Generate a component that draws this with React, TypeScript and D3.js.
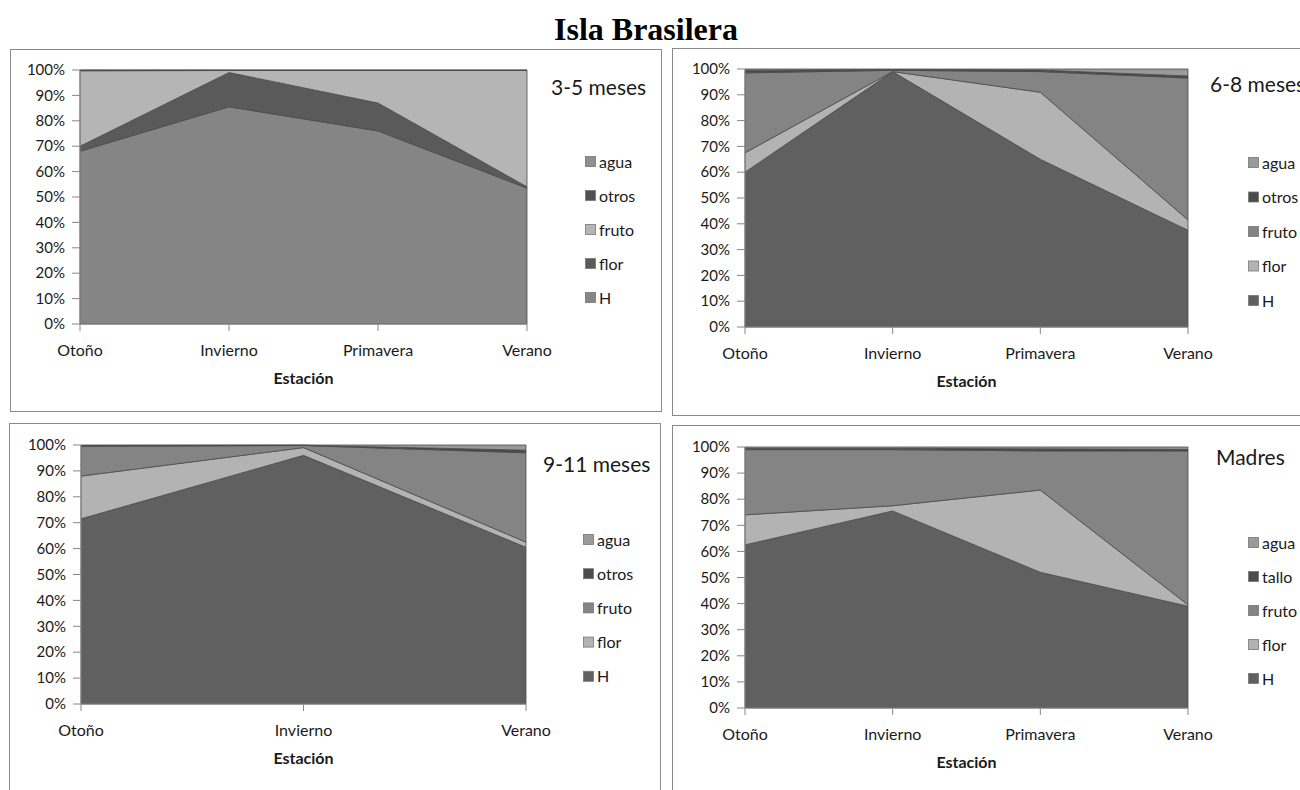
import React from "react";
import * as d3 from "d3";

const seasons4 = ["Otoño", "Invierno", "Primavera", "Verano"];
const seasons3 = ["Otoño", "Invierno", "Verano"];
const keysOtros = ["H", "flor", "fruto", "otros", "agua"];
const keysTallo = ["H", "flor", "fruto", "tallo", "agua"];
const yTicks = [0, 0.1, 0.2, 0.3, 0.4, 0.5, 0.6, 0.7, 0.8, 0.9, 1];

// 3-5 meses
const m35_H = [68, 85.5, 76, 53.5];
const m35_flor = [2, 13.5, 11, 0.5];
const m35_fruto = [29.7, 0.8, 12.8, 45.8];
const m35_otros = [0.2, 0.1, 0.1, 0.1];
const m35_agua = [0.1, 0.1, 0.1, 0.1];

// 6-8 meses
const m68_H = [60, 99, 65, 37.5];
const m68_flor = [7.5, 0, 26, 4];
const m68_fruto = [31, 0.5, 8, 55];
const m68_otros = [1, 0.3, 0.6, 0.8];
const m68_agua = [0.5, 0.2, 0.4, 2.7];

// 9-11 meses
const m911_H = [71.5, 96, 60.5];
const m911_flor = [16.5, 3, 2];
const m911_fruto = [11.5, 0.8, 34.5];
const m911_otros = [0.3, 0.1, 1];
const m911_agua = [0.2, 0.1, 2];

// Madres
const mad_H = [62.5, 75.5, 52, 39];
const mad_flor = [11.5, 2, 31.5, 0.5];
const mad_fruto = [25, 21.5, 15, 59];
const mad_tallo = [0.5, 0.5, 0.8, 0.6];
const mad_agua = [0.5, 0.5, 0.7, 0.9];

const colorsA = { H: "#858585", flor: "#5a5a5a", fruto: "#b5b5b5", otros: "#505050", agua: "#8f8f8f" };
const colorsB = { H: "#606060", flor: "#b3b3b3", fruto: "#848484", otros: "#4b4b4b", tallo: "#4b4b4b", agua: "#9a9a9a" };

type Panel = {
  title: string;
  cats: string[];
  keys: string[];
  series: number[][];
  colors: Record<string, string>;
  box: [number, number, number, number];
  plot: { x0: number; x1: number; yTop: number; yBot: number };
  titlePos: [number, number];
  legendX: number;
  legendY: number;
  legendStep: number;
};

const panels: Panel[] = [
  {
    title: "3-5 meses", cats: seasons4, keys: keysOtros,
    series: [m35_H, m35_flor, m35_fruto, m35_otros, m35_agua], colors: colorsA,
    box: [10, 49, 661, 411], plot: { x0: 80, x1: 527, yTop: 70, yBot: 324 },
    titlePos: [551, 95], legendX: 585, legendY: 162, legendStep: 34,
  },
  {
    title: "6-8 meses", cats: seasons4, keys: keysOtros,
    series: [m68_H, m68_flor, m68_fruto, m68_otros, m68_agua], colors: colorsB,
    box: [672, 48, 1320, 415], plot: { x0: 745, x1: 1188, yTop: 69, yBot: 327 },
    titlePos: [1210, 92], legendX: 1248, legendY: 163, legendStep: 34.5,
  },
  {
    title: "9-11 meses", cats: seasons3, keys: keysOtros,
    series: [m911_H, m911_flor, m911_fruto, m911_otros, m911_agua], colors: colorsB,
    box: [9, 423, 660, 800], plot: { x0: 81, x1: 526, yTop: 445, yBot: 704 },
    titlePos: [543, 472], legendX: 583, legendY: 540, legendStep: 34.2,
  },
  {
    title: "Madres", cats: seasons4, keys: keysTallo,
    series: [mad_H, mad_flor, mad_fruto, mad_tallo, mad_agua], colors: colorsB,
    box: [672, 425, 1320, 800], plot: { x0: 745, x1: 1188, yTop: 447, yBot: 708 },
    titlePos: [1216, 465], legendX: 1248, legendY: 543, legendStep: 34,
  },
];

const labelFont = "Lato, 'Open Sans', sans-serif";

function ChartPanel({ p }: { p: Panel }) {
  const rows = p.cats.map((c, i) => {
    const r: any = { cat: c };
    p.keys.forEach((k, j) => (r[k] = p.series[j][i]));
    return r;
  });
  const stacked = d3.stack<any>().keys(p.keys).offset(d3.stackOffsetExpand)(rows);
  const x = d3.scalePoint<string>().domain(p.cats).range([p.plot.x0, p.plot.x1]);
  const y = d3.scaleLinear().domain([0, 1]).range([p.plot.yBot, p.plot.yTop]);
  const area = d3
    .area<any>()
    .x((d) => x(d.data.cat) as number)
    .y0((d) => y(d[0]))
    .y1((d) => y(d[1]));
  const fmt = d3.format(".0%");
  const [bx0, by0, bx1, by1] = p.box;
  const legendKeys = [...p.keys].reverse();
  return (
    <g>
      <rect x={bx0 + 0.5} y={by0 + 0.5} width={bx1 - bx0} height={by1 - by0} fill="#fff" stroke="#8a8a8a" strokeWidth={1} />
      {stacked.map((s) => (
        <path key={s.key} d={area(s) as string} fill={p.colors[s.key]} stroke="#4a4a4a" strokeWidth={0.8} strokeLinejoin="round" />
      ))}
      {/* y axis */}
      <line x1={p.plot.x0} x2={p.plot.x0} y1={p.plot.yTop} y2={p.plot.yBot} stroke="#868686" />
      {yTicks.map((t) => (
        <g key={t}>
          <line x1={p.plot.x0 - 8} x2={p.plot.x0} y1={y(t)} y2={y(t)} stroke="#868686" />
          <text x={p.plot.x0 - 15} y={y(t)} dy="0.35em" textAnchor="end" fontFamily={labelFont} fontSize={15} fill="#1a1a1a">
            {fmt(t)}
          </text>
        </g>
      ))}
      {/* x axis */}
      <line x1={p.plot.x0} x2={p.plot.x1} y1={p.plot.yBot} y2={p.plot.yBot} stroke="#868686" />
      {p.cats.map((c) => (
        <g key={c}>
          <line x1={x(c)} x2={x(c)} y1={p.plot.yBot} y2={p.plot.yBot + 7} stroke="#868686" />
          <text x={x(c)} y={p.plot.yBot + 26} dy="0.35em" textAnchor="middle" fontFamily={labelFont} fontSize={16} fill="#1a1a1a">
            {c}
          </text>
        </g>
      ))}
      <text
        x={(p.plot.x0 + p.plot.x1) / 2}
        y={p.plot.yBot + 54}
        dy="0.35em"
        textAnchor="middle"
        fontFamily={labelFont}
        fontWeight="bold"
        fontSize={16}
        fill="#1a1a1a"
      >
        Estación
      </text>
      <text x={p.titlePos[0]} y={p.titlePos[1]} fontFamily={labelFont} fontSize={21} fill="#1a1a1a">
        {p.title}
      </text>
      {legendKeys.map((k, i) => (
        <g key={k} transform={`translate(${p.legendX},${p.legendY + i * p.legendStep})`}>
          <rect x={0.5} y={-5.5} width={10} height={10} fill={p.colors[k]} stroke="#777" strokeWidth={0.8} />
          <text x={14} y={0} dy="0.35em" fontFamily={labelFont} fontSize={16} fill="#1a1a1a">
            {k}
          </text>
        </g>
      ))}
    </g>
  );
}

export default function App() {
  return (
    <svg
      width={1300}
      height={790}
      style={{ position: "absolute", left: 0, top: 0, background: "#fff" }}
      xmlns="http://www.w3.org/2000/svg"
    >
      <rect x={0} y={0} width={1300} height={790} fill="#fff" />
      <text x={646} y={40} textAnchor="middle" fontFamily="'Liberation Serif', 'Times New Roman', serif" fontWeight="bold" fontSize={32} fill="#000">
        Isla Brasilera
      </text>
      {panels.map((p) => (
        <ChartPanel key={p.title} p={p} />
      ))}
    </svg>
  );
}
